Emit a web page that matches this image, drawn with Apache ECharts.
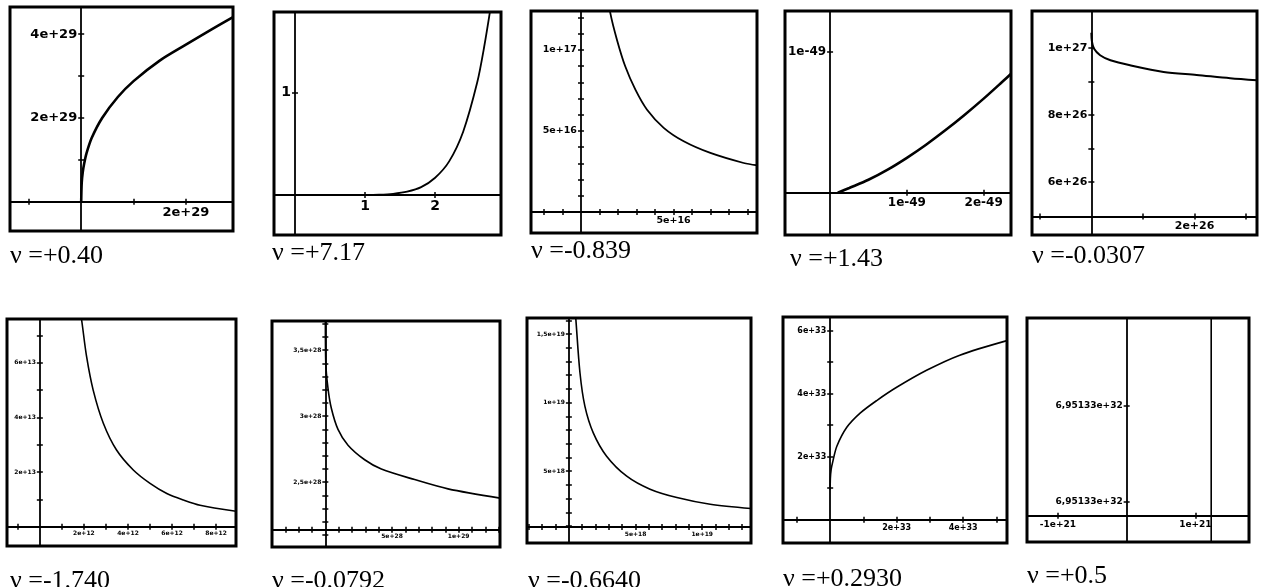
<!DOCTYPE html>
<html>
<head>
<meta charset="utf-8">
<script src="https://cdn.jsdelivr.net/npm/echarts@6/dist/echarts.min.js"></script>
<style>
html, body { margin: 0; padding: 0; background: #fff; }
#chart { width: 1265px; height: 587px; }
</style>
</head>
<body>
<div id="chart"></div>
<script>
// captions under each small graph
var captions = ['ν =+0.40', 'ν =+7.17', 'ν =-0.839', 'ν =+1.43', 'ν =-0.0307',
                'ν =-1.740', 'ν =-0.0792', 'ν =-0.6640', 'ν =+0.2930', 'ν =+0.5'];

// curve points (x and y in the unit of each panel's tick labels)
// 1: units 1e29
var p1X = [0, 0.01, 0.03, 0.06, 0.1, 0.2, 0.4, 0.7, 1.0, 1.5, 2.0, 2.5, 2.9];
var p1Y = [0, 0.45, 0.71, 0.93, 1.15, 1.52, 2.0, 2.5, 2.88, 3.37, 3.75, 4.12, 4.41];
// 2: plain units
var p2X = [0, 0.5, 1.0, 1.2, 1.4, 1.6, 1.8, 2.0, 2.2, 2.4, 2.6, 2.7, 2.8];
var p2Y = [0, 0, 0.001, 0.004, 0.013, 0.034, 0.078, 0.17, 0.33, 0.62, 1.10, 1.45, 1.87];
// 3: units 1e16
var p3X = [1.45, 1.58, 1.95, 2.39, 2.94, 3.57, 4.47, 5.55, 6.99, 8.79, 9.51];
var p3Y = [13.5, 12.3, 10.6, 8.99, 7.55, 6.31, 5.19, 4.36, 3.64, 3.02, 2.88];
// 4: units 1e-49
var p4X = [0.1, 0.25, 0.5, 0.75, 1.0, 1.25, 1.5, 1.75, 2.0, 2.25, 2.36];
var p4Y = [0, 0.034, 0.092, 0.164, 0.248, 0.341, 0.443, 0.552, 0.668, 0.791, 0.846];
// 5: units 1e26
var p5X = [0, 0.01, 0.05, 0.17, 0.37, 0.75, 1.40, 2.04, 2.69, 3.21];
var p5Y = [10.45, 10.2, 9.98, 9.78, 9.63, 9.48, 9.28, 9.19, 9.09, 9.03];
// 6: x units 1e12, y units 1e13
var p6X = [1.8, 1.89, 2.12, 2.42, 2.88, 3.48, 4.24, 5.0, 5.76, 6.52, 7.27, 8.9];
var p6Y = [8.0, 7.6, 6.23, 5.0, 3.79, 2.81, 2.08, 1.59, 1.22, 0.98, 0.79, 0.57];
// 7: units 1e28
var p7X = [0.003, 0.03, 0.2, 0.45, 0.95, 1.7, 2.95, 4.2, 6.7, 9.2, 13.1];
var p7Y = [3.75, 3.41, 3.21, 3.06, 2.90, 2.78, 2.67, 2.60, 2.52, 2.45, 2.38];
// 8: units 1e18
var p8X = [0.45, 0.53, 0.83, 1.2, 1.83, 2.83, 4.34, 6.09, 8.1, 10.6, 13.66];
var p8Y = [17.0, 16.0, 12.2, 9.75, 7.8, 6.1, 4.64, 3.69, 3.08, 2.59, 2.28];
// 9: units 1e33
var p9X = [0, 0.005, 0.03, 0.08, 0.2, 0.5, 0.9, 1.4, 2.0, 2.9, 3.9, 5.32];
var p9Y = [0.95, 1.3, 1.6, 1.85, 2.33, 2.93, 3.38, 3.78, 4.2, 4.74, 5.22, 5.68];
// 10: x units 1e21, y in steps between the two (equal) labels
var p10X = [1.23, 1.23];
var p10Y = [-0.5, 2.0];

// ticks and tick labels
var p1XTicks = [-1, 1, 2], p1YTicks = [1, 2, 3, 4];
var p1XLab = [2], p1XText = ['2e+29'], p1YLab = [2, 4], p1YText = ['2e+29', '4e+29'];
var p2XTicks = [1, 2], p2YTicks = [1];
var p2XLab = [1, 2], p2XText = ['1', '2'], p2YLab = [1], p2YText = ['1'];
var p3XTicks = [-2, -1, 1, 2, 3, 4, 5, 6, 7, 8, 9], p3YTicks = [1, 2, 3, 4, 5, 6, 7, 8, 9, 10, 11, 12];
var p3XLab = [5], p3XText = ['5e+16'], p3YLab = [5, 10], p3YText = ['5e+16', '1e+17'];
var p4XTicks = [1, 2], p4YTicks = [1];
var p4XLab = [1, 2], p4XText = ['1e-49', '2e-49'], p4YLab = [1], p4YText = ['1e-49'];
var p5XTicks = [-1, 1, 2, 3], p5YTicks = [6, 7, 8, 9, 10];
var p5XLab = [2], p5XText = ['2e+26'], p5YLab = [6, 8, 10], p5YText = ['6e+26', '8e+26', '1e+27'];
var p6XTicks = [-1, 1, 2, 3, 4, 5, 6, 7, 8], p6YTicks = [1, 2, 3, 4, 5, 6, 7];
var p6XLab = [2, 4, 6, 8], p6XText = ['2e+12', '4e+12', '6e+12', '8e+12'];
var p6YLab = [2, 4, 6], p6YText = ['2e+13', '4e+13', '6e+13'];
var p7XTicks = [-3, -2, -1, 1, 2, 3, 4, 5, 6, 7, 8, 9, 10, 11, 12, 13];
var p7YTicks = [2.1, 2.2, 2.3, 2.4, 2.5, 2.6, 2.7, 2.8, 2.9, 3.0, 3.1, 3.2, 3.3, 3.4, 3.5, 3.6, 3.7];
var p7XLab = [5, 10], p7XText = ['5e+28', '1e+29'];
var p7YLab = [2.5, 3, 3.5], p7YText = ['2,5e+28', '3e+28', '3,5e+28'];
var p8XTicks = [-3, -2, -1, 1, 2, 3, 4, 5, 6, 7, 8, 9, 10, 11, 12, 13];
var p8YTicks = [1, 2, 3, 4, 5, 6, 7, 8, 9, 10, 11, 12, 13, 14, 15, 16];
var p8XLab = [5, 10], p8XText = ['5e+18', '1e+19'];
var p8YLab = [5, 10, 15], p8YText = ['5e+18', '1e+19', '1,5e+19'];
var p9XTicks = [-1, 1, 2, 3, 4, 5], p9YTicks = [1, 2, 3, 4, 5, 6];
var p9XLab = [2, 4], p9XText = ['2e+33', '4e+33'];
var p9YLab = [2, 4, 6], p9YText = ['2e+33', '4e+33', '6e+33'];
var p10XTicks = [-1, 1], p10YTicks = [0, 1];
var p10XLab = [-1, 1], p10XText = ['-1e+21', '1e+21'];
var p10YLab = [0, 1], p10YText = ['6,95133e+32', '6,95133e+32'];

// layout: box [left, top, width, height], axis ranges, value where the x axis crosses (default 0)
var panels = [
  {box: [10, 7, 223, 224], xr: [-1.36, 2.90], yr: [-0.70, 4.65], x: p1X, y: p1Y,
   xt: p1XTicks, yt: p1YTicks, xl: p1XLab, xs: p1XText, yl: p1YLab, ys: p1YText, font: 13, lw: 2.6, cap: [10, 257]},
  {box: [274, 12, 227, 223], xr: [-0.30, 2.94], yr: [-0.39, 1.79], x: p2X, y: p2Y,
   xt: p2XTicks, yt: p2YTicks, xl: p2XLab, xs: p2XText, yl: p2YLab, ys: p2YText, font: 14, lw: 1.8, cap: [272, 254]},
  {box: [531, 11, 226, 222], xr: [-2.70, 9.51], yr: [-1.30, 12.4], x: p3X, y: p3Y,
   xt: p3XTicks, yt: p3YTicks, xl: p3XLab, xs: p3XText, yl: p3YLab, ys: p3YText, font: 9.5, lw: 1.8, cap: [531, 252]},
  {box: [785, 11, 226, 224], xr: [-0.587, 2.356], yr: [-0.30, 1.29], x: p4X, y: p4Y,
   xt: p4XTicks, yt: p4YTicks, xl: p4XLab, xs: p4XText, yl: p4YLab, ys: p4YText, font: 12, lw: 2.6, cap: [790, 260]},
  {box: [1032, 11, 225, 224], xr: [-1.15, 3.21], yr: [4.41, 11.1], xc: 4.96, x: p5X, y: p5Y,
   xt: p5XTicks, yt: p5YTicks, xl: p5XLab, xs: p5XText, yl: p5YLab, ys: p5YText, font: 11, lw: 2, cap: [1032, 257]},
  {box: [7, 319, 229, 227], xr: [-1.49, 8.9], yr: [-0.70, 7.6], x: p6X, y: p6Y,
   xt: p6XTicks, yt: p6YTicks, xl: p6XLab, xs: p6XText, yl: p6YLab, ys: p6YText, font: 6, lw: 1.6, cap: [10, 582]},
  {box: [272, 321, 228, 226], xr: [-4.0, 13.1], yr: [2.01, 3.72], xc: 2.14, x: p7X, y: p7Y,
   xt: p7XTicks, yt: p7YTicks, xl: p7XLab, xs: p7XText, yl: p7YLab, ys: p7YText, font: 6, lw: 1.6, cap: [272, 582]},
  {box: [527, 318, 224, 225], xr: [-3.14, 13.66], yr: [-0.23, 16.17], xc: 0.94, x: p8X, y: p8Y,
   xt: p8XTicks, yt: p8YTicks, xl: p8XLab, xs: p8XText, yl: p8YLab, ys: p8YText, font: 6, lw: 1.6, cap: [528, 582]},
  {box: [783, 317, 224, 226], xr: [-1.42, 5.32], yr: [-0.74, 6.43], x: p9X, y: p9Y,
   xt: p9XTicks, yt: p9YTicks, xl: p9XLab, xs: p9XText, yl: p9YLab, ys: p9YText, font: 8, lw: 1.6, cap: [783, 580]},
  {box: [1027, 318, 222, 224], xr: [-1.45, 1.78], yr: [-0.42, 1.91], xc: -0.146, x: p10X, y: p10Y,
   xt: p10XTicks, yt: p10YTicks, xl: p10XLab, xs: p10XText, yl: p10YLab, ys: p10YText, font: 9, lw: 1.6, cap: [1027, 577], straight: true}
];

function labelFmt(vals, texts) {
  return function (v) {
    for (var i = 0; i < vals.length; i++) {
      if (Math.abs(vals[i] - v) < 1e-6) return texts[i];
    }
    return '';
  };
}

var grids = [], xAxes = [], yAxes = [], series = [], titles = [];
panels.forEach(function (p, i) {
  grids.push({
    left: p.box[0], top: p.box[1], width: p.box[2], height: p.box[3],
    show: true, borderColor: '#000', borderWidth: 3, backgroundColor: 'transparent',
    containLabel: false, outerBoundsMode: 'none'
  });
  // move the axes onto the crossing point (labels and ticks go with them)
  var xc = p.xc == null ? 0 : p.xc;
  var xOff = -(xc - p.yr[0]) / (p.yr[1] - p.yr[0]) * p.box[3];
  var yOff = -(0 - p.xr[0]) / (p.xr[1] - p.xr[0]) * p.box[2];
  var tickStyle = {color: '#000', width: 1.5};
  var labStyle = {fontSize: p.font, fontWeight: 'bold', color: '#000', fontFamily: 'DejaVu Sans', margin: 4};
  // two axes per side: one with outer ticks and labels, one with inner ticks -> ticks cross the line
  [false, true].forEach(function (inner) {
    xAxes.push({
      gridIndex: i, type: 'value', min: p.xr[0], max: p.xr[1], position: 'bottom', offset: xOff,
      axisLine: {show: !inner, onZero: false, lineStyle: {color: '#000', width: 1.8}},
      axisTick: {customValues: p.xt, length: 3, inside: inner, lineStyle: tickStyle},
      axisLabel: Object.assign({show: !inner, customValues: p.xl, formatter: labelFmt(p.xl, p.xs)}, labStyle),
      splitLine: {show: false}
    });
    yAxes.push({
      gridIndex: i, type: 'value', min: p.yr[0], max: p.yr[1], position: 'left', offset: yOff,
      axisLine: {show: !inner, onZero: false, lineStyle: {color: '#000', width: 1.8}},
      axisTick: {customValues: p.yt, length: 3, inside: inner, lineStyle: tickStyle},
      axisLabel: Object.assign({show: !inner, customValues: p.yl, formatter: labelFmt(p.yl, p.ys)}, labStyle),
      splitLine: {show: false}
    });
  });
  series.push({
    type: 'line', xAxisIndex: 2 * i, yAxisIndex: 2 * i, silent: true,
    data: p.x.map(function (v, k) { return [v, p.y[k]]; }),
    showSymbol: false, smooth: p.straight ? false : 0.3, clip: true,
    lineStyle: {color: '#000', width: p.lw}
  });
  titles.push({
    text: captions[i], left: p.cap[0], top: p.cap[1] - 14, padding: 0,
    textStyle: {fontFamily: 'Liberation Serif', fontSize: 26, fontWeight: 'normal', color: '#000'}
  });
});

var myChart = echarts.init(document.getElementById('chart'));
myChart.setOption({
  animation: false,
  backgroundColor: '#fff',
  title: titles,
  grid: grids,
  xAxis: xAxes,
  yAxis: yAxes,
  series: series
});
</script>
</body>
</html>
